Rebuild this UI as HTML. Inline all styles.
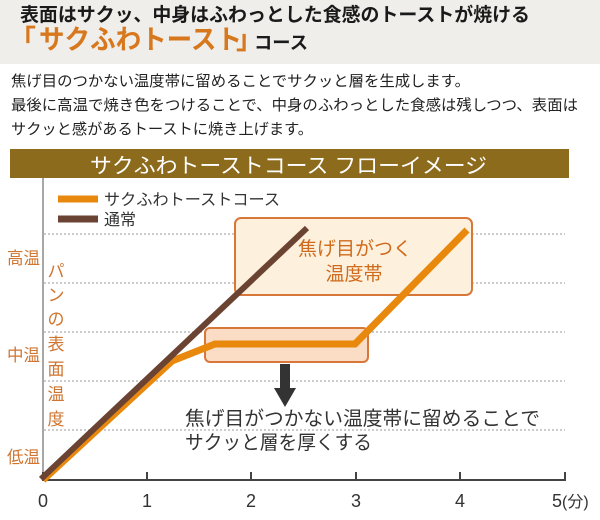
<!DOCTYPE html>
<html>
<head>
<meta charset="utf-8">
<style>
  html,body{margin:0;padding:0;background:#fff;}
  body{width:600px;height:520px;overflow:hidden;}
  svg{display:block;}
  text{font-family:"Liberation Sans","Noto Sans CJK JP",sans-serif;}
</style>
</head>
<body>
<svg width="600" height="520" viewBox="0 0 600 520" xmlns="http://www.w3.org/2000/svg">
  <!-- header -->
  <rect x="0" y="0" width="600" height="64" fill="#efeeeb"/>
  <text x="20" y="21" font-size="19" font-weight="bold" fill="#1a1a1a" textLength="510" lengthAdjust="spacingAndGlyphs">表面はサクッ、中身はふわっとした食感のトーストが焼ける</text>
  <text x="9" y="49" font-size="27" font-weight="bold" fill="#d8781e">「</text>
  <text x="39" y="49" font-size="27" font-weight="bold" fill="#d8781e" textLength="203" lengthAdjust="spacingAndGlyphs">サクふわトースト</text>
  <text x="236" y="49" font-size="27" font-weight="bold" fill="#d8781e">」</text>
  <text x="254" y="49" font-size="18" font-weight="bold" fill="#1a1a1a" textLength="54" lengthAdjust="spacingAndGlyphs">コース</text>

  <!-- body text -->
  <text x="11" y="86" font-size="15" fill="#222" textLength="459" lengthAdjust="spacingAndGlyphs">焦げ目のつかない温度帯に留めることでサクッと層を生成します。</text>
  <text x="11" y="110" font-size="15" fill="#222" textLength="567" lengthAdjust="spacingAndGlyphs">最後に高温で焼き色をつけることで、中身のふわっとした食感は残しつつ、表面は</text>
  <text x="11" y="134" font-size="15" fill="#222" textLength="302" lengthAdjust="spacingAndGlyphs">サクッと感があるトーストに焼き上げます。</text>

  <!-- title bar -->
  <rect x="10" y="149" width="559" height="29" fill="#8d6b1d"/>
  <text x="90" y="173" font-size="21" fill="#ffffff" textLength="397" lengthAdjust="spacingAndGlyphs">サクふわトーストコース フローイメージ</text>

  <!-- gridlines -->
  <g stroke="#9a9a9a" stroke-width="1" stroke-dasharray="2,2">
    <line x1="44" y1="234" x2="565" y2="234"/>
    <line x1="44" y1="283" x2="565" y2="283"/>
    <line x1="44" y1="332" x2="565" y2="332"/>
    <line x1="44" y1="381" x2="565" y2="381"/>
    <line x1="44" y1="430" x2="565" y2="430"/>
  </g>

  <!-- axes -->
  <line x1="43" y1="178" x2="43" y2="480" stroke="#8a8a8a" stroke-width="1.5"/>
  <line x1="42" y1="480" x2="566" y2="480" stroke="#444" stroke-width="2"/>
  <g stroke="#444" stroke-width="2">
    <line x1="43" y1="472" x2="43" y2="480"/>
    <line x1="147" y1="472" x2="147" y2="480"/>
    <line x1="251" y1="472" x2="251" y2="480"/>
    <line x1="356" y1="472" x2="356" y2="480"/>
    <line x1="460" y1="472" x2="460" y2="480"/>
    <line x1="565" y1="472" x2="565" y2="480"/>
  </g>
  <g font-size="18" fill="#333" text-anchor="middle">
    <text x="43" y="507">0</text>
    <text x="147" y="507">1</text>
    <text x="251" y="507">2</text>
    <text x="356" y="507">3</text>
    <text x="460" y="507">4</text>
  </g>
  <text x="552" y="507" font-size="18" fill="#333">5<tspan font-size="16">(分)</tspan></text>

  <!-- y labels -->
  <g font-size="17" fill="#cf7530">
    <text x="7" y="264" textLength="33" lengthAdjust="spacingAndGlyphs">高温</text>
    <text x="7" y="361" textLength="33" lengthAdjust="spacingAndGlyphs">中温</text>
    <text x="7" y="463" textLength="33" lengthAdjust="spacingAndGlyphs">低温</text>
  </g>
  <g font-size="17" fill="#cf7530" text-anchor="middle">
    <text x="56" y="277">パ</text>
    <text x="56" y="301">ン</text>
    <text x="56" y="325">の</text>
    <text x="56" y="350">表</text>
    <text x="56" y="375">面</text>
    <text x="56" y="400">温</text>
    <text x="56" y="425">度</text>
  </g>

  <!-- legend -->
  <line x1="58" y1="199" x2="98" y2="199" stroke="#e8890d" stroke-width="7"/>
  <line x1="58" y1="219" x2="98" y2="219" stroke="#6b4333" stroke-width="7"/>
  <text x="104" y="205" font-size="16" fill="#333" textLength="176" lengthAdjust="spacingAndGlyphs">サクふわトーストコース</text>
  <text x="104" y="225" font-size="16" fill="#333">通常</text>

  <!-- boxes -->
  <rect x="235" y="218" width="237" height="77" rx="6" ry="6" fill="#fdf0dc" stroke="#d7773a" stroke-width="2"/>
  <rect x="205" y="328" width="163" height="34" rx="5" ry="5" fill="#fbdcc5" stroke="#d7773a" stroke-width="2"/>

  <!-- series -->
  <polyline points="43,480 172,361 215,344 355,344 467,230" fill="none" stroke="#e8890d" stroke-width="7" stroke-linejoin="miter" stroke-linecap="butt"/>
  <line x1="41" y1="479" x2="307" y2="228" stroke="#6b4333" stroke-width="6" stroke-linecap="butt"/>

  <!-- upper box text -->
  <g font-size="19" fill="#d06a1c" text-anchor="middle">
    <text x="355" y="255">焦げ目がつく</text>
    <text x="354" y="280">温度帯</text>
  </g>

  <!-- arrow -->
  <rect x="280" y="364" width="10" height="25" fill="#333"/>
  <polygon points="274,388 296,388 285,407" fill="#333"/>

  <!-- annotation -->
  <text x="185" y="425" font-size="19.5" fill="#333" textLength="355" lengthAdjust="spacingAndGlyphs">焦げ目がつかない温度帯に留めることで</text>
  <text x="185" y="449" font-size="19.5" fill="#333" textLength="187" lengthAdjust="spacingAndGlyphs">サクッと層を厚くする</text>
</svg>
</body>
</html>
